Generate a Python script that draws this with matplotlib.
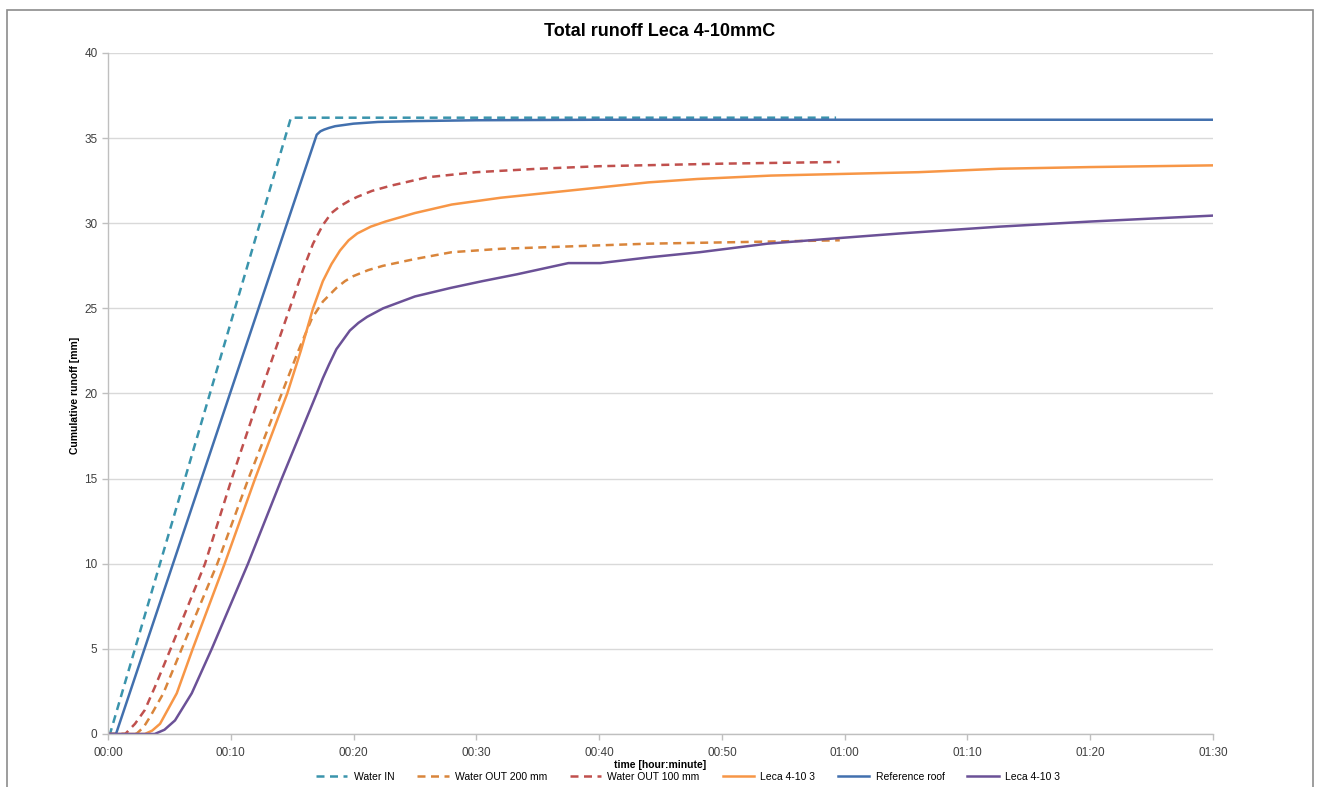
import matplotlib
matplotlib.use("Agg")
import matplotlib.pyplot as plt
from matplotlib.patches import Rectangle
from matplotlib.ticker import FuncFormatter, MultipleLocator

plt.rcParams['font.family'] = ['Liberation Sans Narrow', 'Liberation Sans', 'DejaVu Sans']

# ==== DATA (minutes, mm) ====
water_in_t = [0, 0.16, 14.9, 59.3]
water_in_y = [0, 0, 36.2, 36.2]

out200_t = [0, 2.3, 2.9, 3.42, 4.51, 6.0, 8.9, 11.44, 14.15, 15.5, 16.6, 17.5, 18.6, 19.3, 20, 21.2, 22.4, 25, 28, 32, 36, 44, 52, 59.6]
out200_y = [0, 0, 0.4, 1.0, 2.39, 5, 10, 15, 20, 22.5, 24.4, 25.4, 26.2, 26.6, 26.9, 27.25, 27.5, 27.9, 28.3, 28.5, 28.6, 28.8, 28.9, 29.0]

out100_t = [0, 1.4, 2.2, 3.0, 3.83, 5.1, 7.9, 10.08, 12.4, 13.6, 14.8, 15.9, 16.7, 17.5, 18.2, 18.9, 19.6, 20.3, 21.5, 23, 26, 30, 35, 40, 50, 59.6]
out100_y = [0, 0, 0.6, 1.41, 2.78, 5, 10, 15, 20, 22.5, 25, 27.3, 28.8, 29.9, 30.6, 31.0, 31.3, 31.55, 31.9, 32.2, 32.7, 33.0, 33.2, 33.35, 33.5, 33.6]

leca_a_t = [0, 3.0, 3.6, 4.24, 5.6, 6.9, 9.5, 11.98, 14.6, 15.7, 16.7, 17.5, 18.2, 18.9, 19.6, 20.3, 21.4, 22.6, 25, 28, 32, 36, 40, 44, 48, 54, 60, 66, 72.6, 80, 90]
leca_a_y = [0, 0, 0.2, 0.6, 2.39, 5, 10, 15, 20, 22.5, 25, 26.6, 27.6, 28.4, 29.0, 29.4, 29.8, 30.1, 30.6, 31.1, 31.5, 31.8, 32.1, 32.4, 32.6, 32.8, 32.9, 33.0, 33.2, 33.3, 33.4]

ref_t = [0, 0.65, 17.0, 17.3, 17.6, 18, 18.5, 19, 20, 22, 25, 30, 40, 60, 90]
ref_y = [0, 0, 35.2, 35.4, 35.5, 35.6, 35.7, 35.75, 35.85, 35.95, 36.0, 36.05, 36.08, 36.08, 36.08]

leca_b_t = [0, 3.8, 4.6, 5.46, 6.82, 8.45, 11.4, 14.15, 17.0, 17.5, 18.0, 18.6, 19.2, 19.7, 20.4, 21.1, 22.4, 25, 27.9, 30.5, 33.3, 37.5, 40.1, 44.1, 48.2, 53.7, 59, 64.5, 72.6, 80, 90]
leca_b_y = [0, 0, 0.25, 0.8, 2.39, 5, 10, 15, 20, 20.9, 21.7, 22.6, 23.2, 23.7, 24.15, 24.5, 25.0, 25.7, 26.2, 26.6, 27.0, 27.66, 27.66, 28.0, 28.3, 28.8, 29.1, 29.4, 29.8, 30.1, 30.45]

# ==== PLOT ====
W, H = 1319, 787
fig = plt.figure(figsize=(W / 100, H / 100), dpi=100)
ax = fig.add_axes([108 / W, 1 - 734 / H, (1213 - 108) / W, (734 - 53) / H])

dash = (0, (3.2, 2.2))
lw = 1.8
ax.plot(water_in_t, water_in_y, color="#3A94AC", lw=lw, ls=dash, label="Water IN")
ax.plot(out200_t, out200_y, color="#D9853B", lw=lw, ls=dash, label="Water OUT 200 mm")
ax.plot(out100_t, out100_y, color="#C0504D", lw=lw, ls=dash, label="Water OUT 100 mm")
ax.plot(leca_a_t, leca_a_y, color="#F79646", lw=lw, label="Leca 4-10 3")
ax.plot(ref_t, ref_y, color="#4270AE", lw=lw, label="Reference roof")
ax.plot(leca_b_t, leca_b_y, color="#6B5197", lw=lw, label="Leca 4-10 3")

ax.set_xlim(0, 90)
ax.set_ylim(0, 40)
ax.xaxis.set_major_locator(MultipleLocator(10))
ax.yaxis.set_major_locator(MultipleLocator(5))
ax.xaxis.set_major_formatter(FuncFormatter(lambda v, p: "%02d:%02d" % (int(v) // 60, int(v) % 60)))

ax.grid(axis="y", color="#D9D9D9", lw=1)
ax.set_axisbelow(True)
for s in ["top", "right"]:
    ax.spines[s].set_visible(False)
for s in ["left", "bottom"]:
    ax.spines[s].set_color("#BFBFBF")
    ax.spines[s].set_linewidth(1)
ax.tick_params(axis="both", colors="#BFBFBF", length=4, width=1, labelsize=8.5, labelcolor="#404040")
ax.tick_params(axis="x", pad=5)

fig.text(0.5, 1 - 32 / H, "Total runoff Leca 4-10mmC", ha="center", va="center",
         fontsize=13, fontweight="bold", color="#000000")
fig.text(75 / W, 1 - 395 / H, "Cumulative runoff [mm]", ha="center", va="center",
         rotation=90, fontsize=7.5, fontweight="bold")
fig.text(660 / W, 1 - 765 / H, "time [hour:minute]", ha="center", va="center",
         fontsize=7.5, fontweight="bold")

fig.legend(loc="center", bbox_to_anchor=(688 / W, 1 - 777 / H), ncol=6, frameon=False,
           fontsize=7.5, handlelength=3.0, columnspacing=2.2, handletextpad=0.6,
           borderaxespad=0, borderpad=0)

fig.patches.append(Rectangle((7 / W, -0.05), 1306 / W, 1.05 - 10 / H, transform=fig.transFigure,
                             fill=False, edgecolor="#8C8C8C", lw=1.2))

fig.savefig("out.png", dpi=100)
